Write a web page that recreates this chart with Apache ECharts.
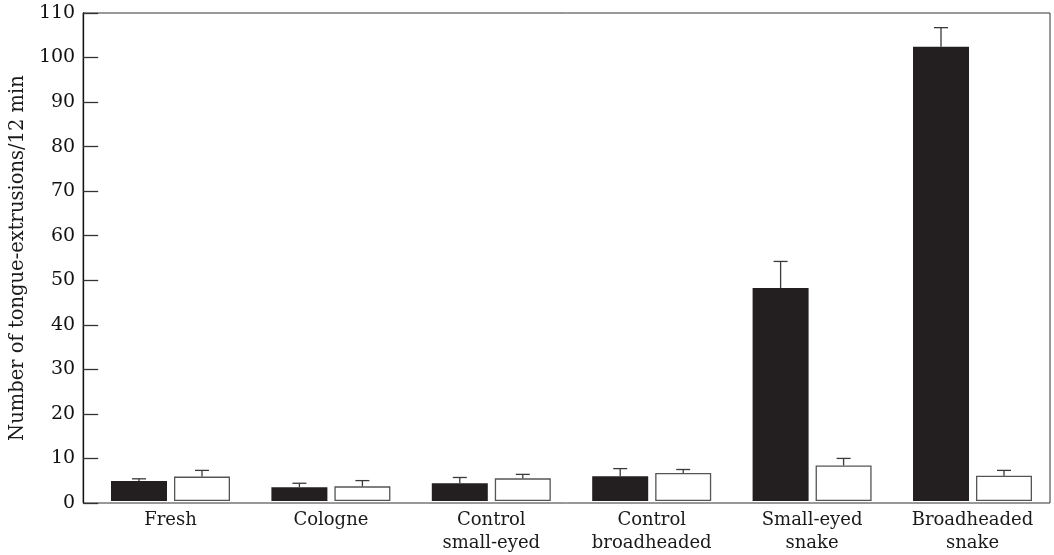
<!DOCTYPE html>
<html><head><meta charset="utf-8">
<script src="https://cdn.jsdelivr.net/npm/echarts@6/dist/echarts.min.js"></script>
<style>html,body{margin:0;padding:0;background:#fff}#c{width:1054px;height:555px}</style>
</head><body><div id="c"></div>
<script>
const categories = ['Fresh', 'Cologne', 'Control\nsmall-eyed', 'Control\nbroadheaded', 'Small-eyed\nsnake', 'Broadheaded\nsnake'];
const blackMeans = [4.5, 3.1, 4.0, 5.6, 48.0, 102.4];
const blackErrTop = [5.0, 4.0, 5.3, 7.3, 54.0, 106.7];
const whiteMeans = [5.5, 3.3, 5.1, 6.3, 8.0, 5.7];
const whiteErrTop = [6.9, 4.6, 6.0, 7.1, 9.6, 6.9];
const yMin = 0, yMax = 110, yStep = 10;
const yTitle = 'Number of tongue-extrusions/12 min';

const FONT = 'DejaVu Serif';
const BAR_W = 56, BAR_SHIFT = 31.5, CAP = 7;

function errItem(shift) {
  return function (params, api) {
    const x = api.value(0);
    const base = api.coord([x, api.value(1)]);
    const top = api.coord([x, api.value(2)]);
    const cx = base[0] + shift;
    const st = { stroke: '#3a3a3a', lineWidth: 1.3 };
    return { type: 'group', children: [
      { type: 'line', shape: { x1: cx, y1: base[1], x2: cx, y2: top[1] }, style: st },
      { type: 'line', shape: { x1: cx - CAP, y1: top[1], x2: cx + CAP, y2: top[1] }, style: st }
    ]};
  };
}

const chart = echarts.init(document.getElementById('c'));
chart.setOption({
  animation: false,
  grid: [
    { left: 76, width: 974, top: 13, height: 490, show: true, borderColor: '#333', borderWidth: 1, backgroundColor: 'transparent' },
    { left: 90.3, width: 962.4, top: 13, height: 490 }
  ],
  xAxis: [
    { gridIndex: 0, type: 'value', min: 0, max: 1, show: false },
    { gridIndex: 1, type: 'category', data: categories,
      axisLine: { show: false }, axisTick: { show: false },
      axisLabel: { fontFamily: FONT, fontSize: 18, color: '#1a1a1a', margin: 8, lineHeight: 23 } }
  ],
  yAxis: [
    { gridIndex: 0, type: 'value', min: yMin, max: yMax, interval: yStep,
      name: yTitle, nameLocation: 'middle', nameGap: 48,
      nameTextStyle: { fontFamily: FONT, fontSize: 19.5, color: '#1a1a1a' },
      axisLine: { show: true, lineStyle: { color: '#111', width: 1.3 } },
      axisTick: { show: true, inside: true, length: 15, lineStyle: { color: '#333', width: 1.3 } },
      axisLabel: { fontFamily: FONT, fontSize: 19, color: '#111', margin: 8 },
      splitLine: { show: false } },
    { gridIndex: 1, type: 'value', min: yMin, max: yMax, interval: yStep, show: false, splitLine: { show: false } }
  ],
  series: [
    { type: 'bar', xAxisIndex: 1, yAxisIndex: 1, data: blackMeans, barWidth: BAR_W, barGap: '12.5%',
      itemStyle: { color: '#231f20' } },
    { type: 'bar', xAxisIndex: 1, yAxisIndex: 1, data: whiteMeans, barWidth: BAR_W, barGap: '12.5%',
      itemStyle: { color: '#ffffff', borderColor: '#555', borderWidth: 1.3 } },
    { type: 'custom', xAxisIndex: 1, yAxisIndex: 1, renderItem: errItem(-BAR_SHIFT), z: 3,
      data: blackMeans.map((v, i) => [i, v, blackErrTop[i]]) },
    { type: 'custom', xAxisIndex: 1, yAxisIndex: 1, renderItem: errItem(BAR_SHIFT), z: 3,
      data: whiteMeans.map((v, i) => [i, v, whiteErrTop[i]]) }
  ]
});
</script></body></html>
